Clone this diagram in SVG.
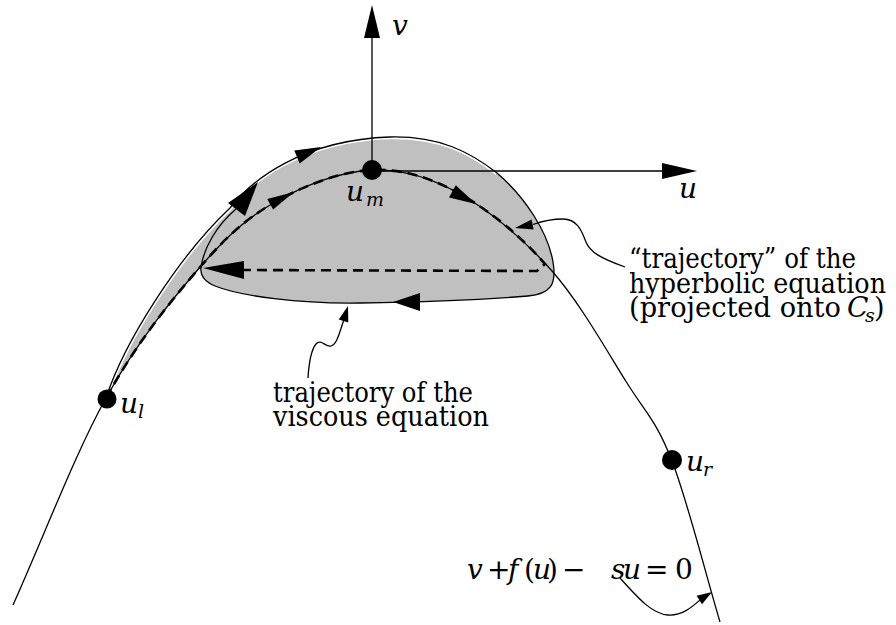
<svg xmlns="http://www.w3.org/2000/svg" width="896" height="625" viewBox="0 0 896 625">
<style>
.ln{fill:none;stroke:#000;stroke-width:1.3}
.dash{fill:none;stroke:#000;stroke-width:2.6;stroke-dasharray:10 6}
.ah{fill:#000;stroke:none}
.txt{font-family:"DejaVu Serif","Liberation Serif",serif;font-size:27px;fill:#000}
.mi{font-family:"DejaVu Serif","Liberation Serif",serif;font-style:italic;font-size:28px;fill:#000}
.up{font-style:normal}
.sub{font-family:"DejaVu Serif","Liberation Serif",serif;font-style:italic;font-size:19px;fill:#000}
.dot{fill:#000}
</style>
<g id="viscous-region">
<path d="M106,398 C125,340 180,255 230,208 C250,182 300,140 390,137 C440,136 470,152 497,173 C525,197 548,232 553,262 C557,285 550,294 528,296 C480,300 420,302 360,303 C300,304 240,296 215,286 C205,282 200,275 201,267 C172.5,298.8 137.3,341.5 106,398 Z" fill="#c0c0c0" stroke="none"/>
<path d="M106,398 C125,340 180,255 230,208 C250,182 300,140 390,137 C440,136 470,152 497,173" fill="none" stroke="#fff" stroke-width="4.5"/>
<path class="ln" d="M106,398 C125,340 180,255 230,208 C250,182 300,140 390,137 C440,136 470,152 497,173 C525,197 548,232 553,262 C557,285 550,294 528,296 C480,300 420,302 360,303 C300,304 240,296 215,286 C205,282 200,275 201,267"/>
<path class="ln" d="M201,267 C204,248 216,226 236,209"/>
<polygon class="ah" points="321,147 294.3,150.6 299.7,163.4"/>
<polygon class="ah" points="258,182 228,203 245,216"/>
<polygon class="ah" points="393,302 420,293 420,311"/>
</g>
<g id="curve-Cs">
<path class="ln" d="M13,605 C44,536 74.7,454.5 106,398 C137.3,341.5 172.5,298.8 201,266 C229.5,233.2 248.5,217 277,201 C305.5,185 341.5,171.2 372,170 C402.5,168.8 430,177.2 460,194 C490,210.8 524.2,239.5 552,271 C579.8,302.5 607,351.3 627,383 C647,414.7 656.5,421.2 672,461 C687.5,500.8 704,568.3 720,622"/>
</g>
<g id="hyperbolic-trajectory">
<path class="dash" d="M106,398 C137.3,341.5 172.5,298.8 201,266 C229.5,233.2 248.5,217 277,201 C305.5,185 341.5,171.2 372,170 C402.5,168.8 430,177.2 460,194 C490,210.8 522,237 545,264 L537,271 L240,270"/>
<polygon class="ah" points="294,192 267.3,199.1 273.1,209.5"/>
<polygon class="ah" points="476,204 449,197.4 455.8,185.2"/>
<polygon class="ah" points="203,268 244,261 244,279"/>
</g>
<g id="axes">
<path class="ln" d="M372,170 L372,36"/>
<polygon class="ah" points="372,5 364,38 380,38"/>
<path class="ln" d="M372,171 L664,171"/>
<polygon class="ah" points="697,171 662,163 662,179"/>
<text class="mi" x="392" y="35">v</text>
<text class="mi" x="679" y="198">u</text>
</g>
<g id="node-ul">
<circle class="dot" cx="107" cy="399" r="9.5"/>
<text class="mi" x="120" y="413">u</text>
<text class="sub" x="138" y="418">l</text>
</g>
<g id="node-um">
<circle class="dot" cx="372" cy="170" r="10"/>
<text class="mi" x="346" y="201">u</text>
<text class="sub" x="366" y="206">m</text>
</g>
<g id="node-ur">
<circle class="dot" cx="672" cy="460" r="10"/>
<text class="mi" x="686" y="471">u</text>
<text class="sub" x="703" y="476">r</text>
</g>
<g id="connectors">
<path class="ln" d="M308,378 C309,362 311,350 316,344 C321,338 326,348 331,346 C337,344 339,334 343.5,321"/>
<polygon class="ah" points="348,306 338.7,319.6 348.3,322.4"/>
<path class="ln" d="M625,267 C600,258 590,252 586,242 C582,232 578,219 563,219 C550,219 540,222 533,224.5"/>
<polygon class="ah" points="515,228 533.6,229.4 531.6,219.6"/>
<path class="ln" d="M620,578 C638,598 652,614 668,615 C682,616 692,607 700,600"/>
<polygon class="ah" points="712,592 702,604.2 696.6,595.7"/>
</g>
<g id="label-viscous">
<text class="txt" x="273" y="402" textLength="200" lengthAdjust="spacingAndGlyphs">trajectory of the</text>
<text class="txt" x="273" y="426" textLength="216" lengthAdjust="spacingAndGlyphs">viscous equation</text>
</g>
<g id="label-hyperbolic">
<text class="txt" x="629" y="268" textLength="227" lengthAdjust="spacingAndGlyphs">“trajectory” of the</text>
<text class="txt" x="629" y="293" textLength="257" lengthAdjust="spacingAndGlyphs">hyperbolic equation</text>
<text class="txt" x="629" y="317" textLength="212" lengthAdjust="spacingAndGlyphs">(projected onto</text>
<text class="mi" x="847" y="317" font-size="27">C</text>
<text class="sub" x="865" y="322" font-size="17">s</text>
<text class="txt" x="874" y="317">)</text>
</g>
<g id="label-equation">
<text class="mi" y="579" font-size="27"><tspan x="467">v</tspan><tspan x="487" class="up">+</tspan><tspan x="508">f</tspan><tspan x="524" class="up">(</tspan><tspan x="533">u</tspan><tspan x="547" class="up">)</tspan><tspan x="562" class="up">−</tspan><tspan x="611">s</tspan><tspan x="623">u</tspan><tspan x="645" class="up">=</tspan><tspan x="675" class="up">0</tspan></text>
</g>
</svg>
